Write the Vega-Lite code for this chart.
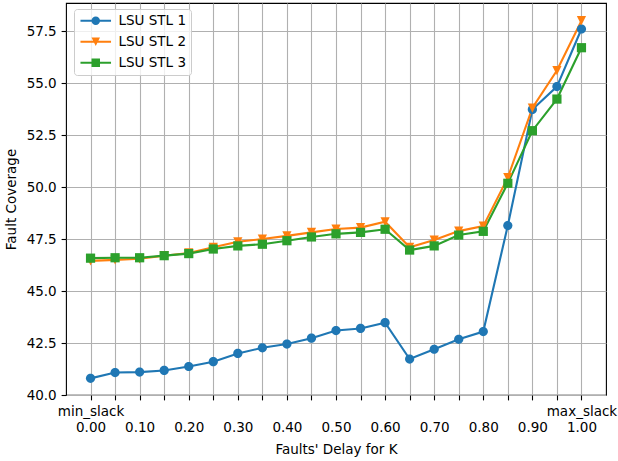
{
  "$schema": "https://vega.github.io/schema/vega-lite/v6.json",
  "autosize": {"type": "none"},
  "padding": {"left": 66, "top": 3, "right": 12, "bottom": 66},
  "width": 540,
  "height": 392,
  "background": "white",
  "config": {
    "font": "DejaVu Sans",
    "view": {"stroke": "black", "strokeWidth": 1.1},
    "axis": {
      "labelFont": "DejaVu Sans", "labelFontSize": 13.5, "labelColor": "black",
      "titleFont": "DejaVu Sans", "titleFontSize": 13.5, "titleFontWeight": "normal", "titleColor": "black",
      "tickColor": "black", "tickSize": 4.9, "tickWidth": 1.1,
      "gridColor": "#b0b0b0", "gridWidth": 1.1, "domain": false,
      "labelPadding": 4.9, "labelFlush": false, "labelOverlap": false, "labelBound": false
    }
  },
  "datasets": {
    "pts": [
      {"x": 0.00, "series": "LSU STL 1", "v": 40.8},
      {"x": 0.05, "series": "LSU STL 1", "v": 41.08},
      {"x": 0.10, "series": "LSU STL 1", "v": 41.1},
      {"x": 0.15, "series": "LSU STL 1", "v": 41.18},
      {"x": 0.20, "series": "LSU STL 1", "v": 41.37},
      {"x": 0.25, "series": "LSU STL 1", "v": 41.6},
      {"x": 0.30, "series": "LSU STL 1", "v": 42.0},
      {"x": 0.35, "series": "LSU STL 1", "v": 42.27},
      {"x": 0.40, "series": "LSU STL 1", "v": 42.45},
      {"x": 0.45, "series": "LSU STL 1", "v": 42.73},
      {"x": 0.50, "series": "LSU STL 1", "v": 43.1},
      {"x": 0.55, "series": "LSU STL 1", "v": 43.2},
      {"x": 0.60, "series": "LSU STL 1", "v": 43.48},
      {"x": 0.65, "series": "LSU STL 1", "v": 41.73},
      {"x": 0.70, "series": "LSU STL 1", "v": 42.2},
      {"x": 0.75, "series": "LSU STL 1", "v": 42.68},
      {"x": 0.80, "series": "LSU STL 1", "v": 43.05},
      {"x": 0.85, "series": "LSU STL 1", "v": 48.15},
      {"x": 0.90, "series": "LSU STL 1", "v": 53.73},
      {"x": 0.95, "series": "LSU STL 1", "v": 54.83},
      {"x": 1.00, "series": "LSU STL 1", "v": 57.6},
      {"x": 0.00, "series": "LSU STL 2", "v": 46.45},
      {"x": 0.05, "series": "LSU STL 2", "v": 46.5},
      {"x": 0.10, "series": "LSU STL 2", "v": 46.55},
      {"x": 0.15, "series": "LSU STL 2", "v": 46.7},
      {"x": 0.20, "series": "LSU STL 2", "v": 46.83},
      {"x": 0.25, "series": "LSU STL 2", "v": 47.1},
      {"x": 0.30, "series": "LSU STL 2", "v": 47.37},
      {"x": 0.35, "series": "LSU STL 2", "v": 47.5},
      {"x": 0.40, "series": "LSU STL 2", "v": 47.65},
      {"x": 0.45, "series": "LSU STL 2", "v": 47.82},
      {"x": 0.50, "series": "LSU STL 2", "v": 47.98},
      {"x": 0.55, "series": "LSU STL 2", "v": 48.05},
      {"x": 0.60, "series": "LSU STL 2", "v": 48.33},
      {"x": 0.65, "series": "LSU STL 2", "v": 47.1},
      {"x": 0.70, "series": "LSU STL 2", "v": 47.45},
      {"x": 0.75, "series": "LSU STL 2", "v": 47.88},
      {"x": 0.80, "series": "LSU STL 2", "v": 48.12},
      {"x": 0.85, "series": "LSU STL 2", "v": 50.45},
      {"x": 0.90, "series": "LSU STL 2", "v": 53.8},
      {"x": 0.95, "series": "LSU STL 2", "v": 55.6},
      {"x": 1.00, "series": "LSU STL 2", "v": 58.0},
      {"x": 0.00, "series": "LSU STL 3", "v": 46.58},
      {"x": 0.05, "series": "LSU STL 3", "v": 46.6},
      {"x": 0.10, "series": "LSU STL 3", "v": 46.6},
      {"x": 0.15, "series": "LSU STL 3", "v": 46.7},
      {"x": 0.20, "series": "LSU STL 3", "v": 46.8},
      {"x": 0.25, "series": "LSU STL 3", "v": 47.02},
      {"x": 0.30, "series": "LSU STL 3", "v": 47.17},
      {"x": 0.35, "series": "LSU STL 3", "v": 47.25},
      {"x": 0.40, "series": "LSU STL 3", "v": 47.42},
      {"x": 0.45, "series": "LSU STL 3", "v": 47.6},
      {"x": 0.50, "series": "LSU STL 3", "v": 47.75},
      {"x": 0.55, "series": "LSU STL 3", "v": 47.82},
      {"x": 0.60, "series": "LSU STL 3", "v": 47.97},
      {"x": 0.65, "series": "LSU STL 3", "v": 46.97},
      {"x": 0.70, "series": "LSU STL 3", "v": 47.17},
      {"x": 0.75, "series": "LSU STL 3", "v": 47.69},
      {"x": 0.80, "series": "LSU STL 3", "v": 47.87},
      {"x": 0.85, "series": "LSU STL 3", "v": 50.18},
      {"x": 0.90, "series": "LSU STL 3", "v": 52.71},
      {"x": 0.95, "series": "LSU STL 3", "v": 54.23},
      {"x": 1.00, "series": "LSU STL 3", "v": 56.7}
    ]
  },
  "data": {"name": "pts"},
  "encoding": {
    "x": {
      "field": "x", "type": "quantitative",
      "scale": {"domain": [-0.05, 1.05], "nice": false, "zero": false},
      "axis": {
        "title": "Faults' Delay for K",
        "values": [0, 0.05, 0.1, 0.15, 0.2, 0.25, 0.3, 0.35, 0.4, 0.45, 0.5, 0.55, 0.6, 0.65, 0.7, 0.75, 0.8, 0.85, 0.9, 0.95, 1.0],
        "labelExpr": "abs(datum.value) < 0.001 ? ['min_slack', '0.00'] : (abs(datum.value - 1) < 0.001 ? ['max_slack', '1.00'] : (round(datum.value * 20) % 2 == 0 ? ['', format(datum.value, '.2f')] : ''))",
        "labelLineHeight": 16,
        "labelBaseline": "top",
        "titlePadding": 8
      }
    },
    "y": {
      "field": "v", "type": "quantitative",
      "scale": {"domain": [40, 58.85], "nice": false, "zero": false},
      "axis": {
        "title": "Fault Coverage",
        "values": [40, 42.5, 45, 47.5, 50, 52.5, 55, 57.5],
        "format": ".1f",
        "titlePadding": 8
      }
    }
  },
  "layer": [
    {
      "mark": {"type": "line", "strokeWidth": 2.1},
      "encoding": {
        "color": {
          "field": "series", "type": "nominal",
          "scale": {"domain": ["LSU STL 1", "LSU STL 2", "LSU STL 3"], "range": ["#1f77b4", "#ff7f0e", "#2ca02c"]},
          "legend": null
        }
      }
    },
    {
      "mark": {"type": "point", "filled": true, "opacity": 1, "size": 85, "strokeWidth": 0},
      "encoding": {
        "color": {
          "field": "series", "type": "nominal",
          "scale": {"domain": ["LSU STL 1", "LSU STL 2", "LSU STL 3"], "range": ["#1f77b4", "#ff7f0e", "#2ca02c"]},
          "legend": null
        },
        "shape": {
          "field": "series", "type": "nominal",
          "scale": {"domain": ["LSU STL 1", "LSU STL 2", "LSU STL 3"], "range": ["M1,0A1,1 0 1,1 -1,0A1,1 0 1,1 1,0Z", "M-1,-1H1L0,1Z", "M-1,-1H1V1H-1Z"]},
          "legend": null
        }
      }
    },
    {
      "transform": [{"filter": "datum.v > 1000"}],
      "mark": {"type": "point", "filled": true, "opacity": 1, "size": 69, "strokeWidth": 0},
      "encoding": {
        "color": {
          "field": "series", "type": "nominal",
          "scale": {"domain": ["LSU STL 1", "LSU STL 2", "LSU STL 3"], "range": ["#1f77b4", "#ff7f0e", "#2ca02c"]},
          "legend": {
            "title": null, "orient": "none", "legendX": 8, "legendY": 6,
            "labelFont": "DejaVu Sans", "labelFontSize": 13.5, "labelColor": "black",
            "symbolSize": 72, "symbolStrokeWidth": 0, "symbolOffset": 10, "labelOffset": 16,
            "rowPadding": 6, "padding": 5, "strokeColor": "#cccccc", "fillColor": "rgba(255,255,255,0.8)", "cornerRadius": 3
          }
        },
        "shape": {
          "field": "series", "type": "nominal",
          "scale": {"domain": ["LSU STL 1", "LSU STL 2", "LSU STL 3"], "range": [
            "M-3.6,-0.25H3.6V0.25H-3.6Z M1,0A1,1 0 1,1 -1,0A1,1 0 1,1 1,0Z",
            "M-3.6,-0.25H3.6V0.25H-3.6Z M-1,-1H1L0,1Z",
            "M-3.6,-0.25H3.6V0.25H-3.6Z M-1,-1H1V1H-1Z"
          ]},
          "legend": {
            "title": null, "orient": "none", "legendX": 8, "legendY": 6,
            "labelFont": "DejaVu Sans", "labelFontSize": 13.5, "labelColor": "black",
            "symbolSize": 72, "symbolStrokeWidth": 0, "symbolOffset": 10, "labelOffset": 16,
            "rowPadding": 6, "padding": 5, "strokeColor": "#cccccc", "fillColor": "rgba(255,255,255,0.8)", "cornerRadius": 3
          }
        }
      }
    }
  ],
  "resolve": {"scale": {"color": "independent", "shape": "independent"}}
}
